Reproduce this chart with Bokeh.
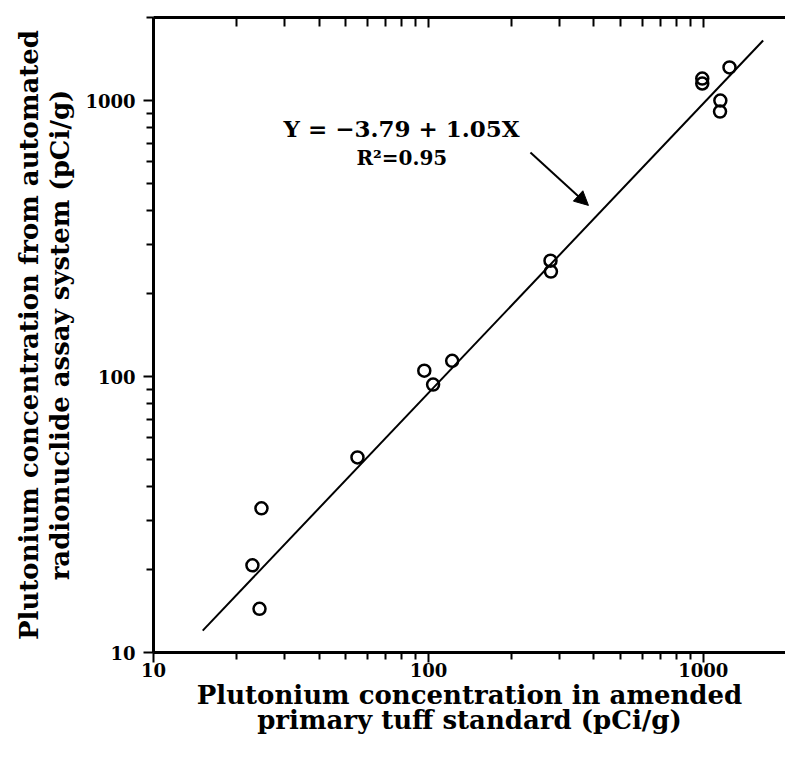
from bokeh.plotting import figure
from bokeh.models import (LogAxis, FixedTicker, PrintfTickFormatter, Label, Arrow,
                          NormalHead, ColumnDataSource)
from bokeh.embed import file_html
from bokeh.resources import INLINE

# ---- data ----
standard_pci = [22.9, 24.7, 24.3, 55.2, 96.6, 104, 122, 278, 279, 991, 991, 1153, 1150, 1245]
automated_pci = [20.7, 33.3, 14.4, 50.9, 105, 93.5, 114, 263, 240, 1202, 1153, 1000, 912, 1318]

fit_x = [15.1, 1650]
fit_y = [12.0, 1650]

major_ticks = [10, 100, 1000]
minor_ticks = [20, 30, 40, 50, 60, 70, 80, 90, 200, 300, 400, 500, 600, 700, 800, 900, 2000]

x_title = "Plutonium concentration in amended\nprimary tuff standard (pCi/g)"
y_title = "Plutonium concentration from automated\nradionuclide assay system (pCi/g)"
eq_text = "Y  =  \u22123.79  +  1.05X"
r2_text = "R\u00b2=0.95"

# annotation anchors (data units)
eq_pos = (29.7, 792)
r2_pos = (54.7, 617)
arrow_tail = (235, 649)
arrow_head = (382, 417)

FONT = "DejaVu Serif"

p = figure(x_axis_type="log", y_axis_type="log", tools="",
           x_range=(10, 1990), y_range=(10, 2000),
           frame_width=632, frame_height=635,
           min_border_left=153, min_border_top=17, min_border_right=0, min_border_bottom=0,
           output_backend="svg", toolbar_location=None,
           background_fill_color="white", border_fill_color="white")
p.toolbar.logo = None
p.outline_line_color = None
p.xgrid.visible = False
p.ygrid.visible = False

ticker = FixedTicker(ticks=major_ticks, minor_ticks=minor_ticks)

for ax in (p.xaxis[0], p.yaxis[0]):
    ax.ticker = ticker
    ax.formatter = PrintfTickFormatter(format="%d")
    ax.axis_line_width = 3
    ax.axis_line_color = "black"
    ax.major_tick_line_width = 2
    ax.minor_tick_line_width = 2
    ax.major_tick_in = 0
    ax.major_tick_out = 10
    ax.minor_tick_in = 0
    ax.minor_tick_out = 7
    ax.major_label_text_font = FONT
    ax.major_label_text_font_style = "bold"
    ax.major_label_text_font_size = "18px"
    ax.major_label_text_color = "black"
    ax.axis_label_text_font = FONT
    ax.axis_label_text_font_style = "bold"
    ax.axis_label_text_font_size = "26px"
    ax.axis_label_text_color = "black"

p.xaxis.axis_label = x_title
p.yaxis.axis_label = y_title
p.xaxis.major_label_standoff = 0
p.xaxis.axis_label_standoff = 0
p.xaxis.axis_label_text_line_height = 0.85
p.yaxis.major_label_standoff = 8
p.yaxis.axis_label_standoff = 7
p.yaxis.axis_label_text_line_height = 1.05

# top frame line with inward ticks, no labels
top = LogAxis(ticker=ticker, axis_line_width=3, axis_line_color="black",
              major_tick_in=10, major_tick_out=0, minor_tick_in=9, minor_tick_out=0,
              major_tick_line_width=2, minor_tick_line_width=2,
              major_label_text_font_size="1px", major_label_text_color=None,
              major_label_standoff=0)
p.add_layout(top, "above")

p.line(fit_x, fit_y, line_color="black", line_width=2)

src = ColumnDataSource(dict(x=standard_pci, y=automated_pci))
p.scatter("x", "y", source=src, marker="circle", size=12, fill_color=None,
          line_color="black", line_width=2.5)

p.add_layout(Label(x=eq_pos[0], y=eq_pos[1], text=eq_text, text_font=FONT,
                   text_font_style="bold", text_font_size="23px",
                   text_align="left", text_baseline="middle", text_color="black"))
p.add_layout(Label(x=r2_pos[0], y=r2_pos[1], text=r2_text, text_font=FONT,
                   text_font_style="bold", text_font_size="20px",
                   text_align="left", text_baseline="middle", text_color="black"))
p.add_layout(Arrow(x_start=arrow_tail[0], y_start=arrow_tail[1],
                   x_end=arrow_head[0], y_end=arrow_head[1], line_width=2,
                   end=NormalHead(size=14, fill_color="black", line_color="black")))

open("out.html", "w").write(file_html(p, INLINE))
